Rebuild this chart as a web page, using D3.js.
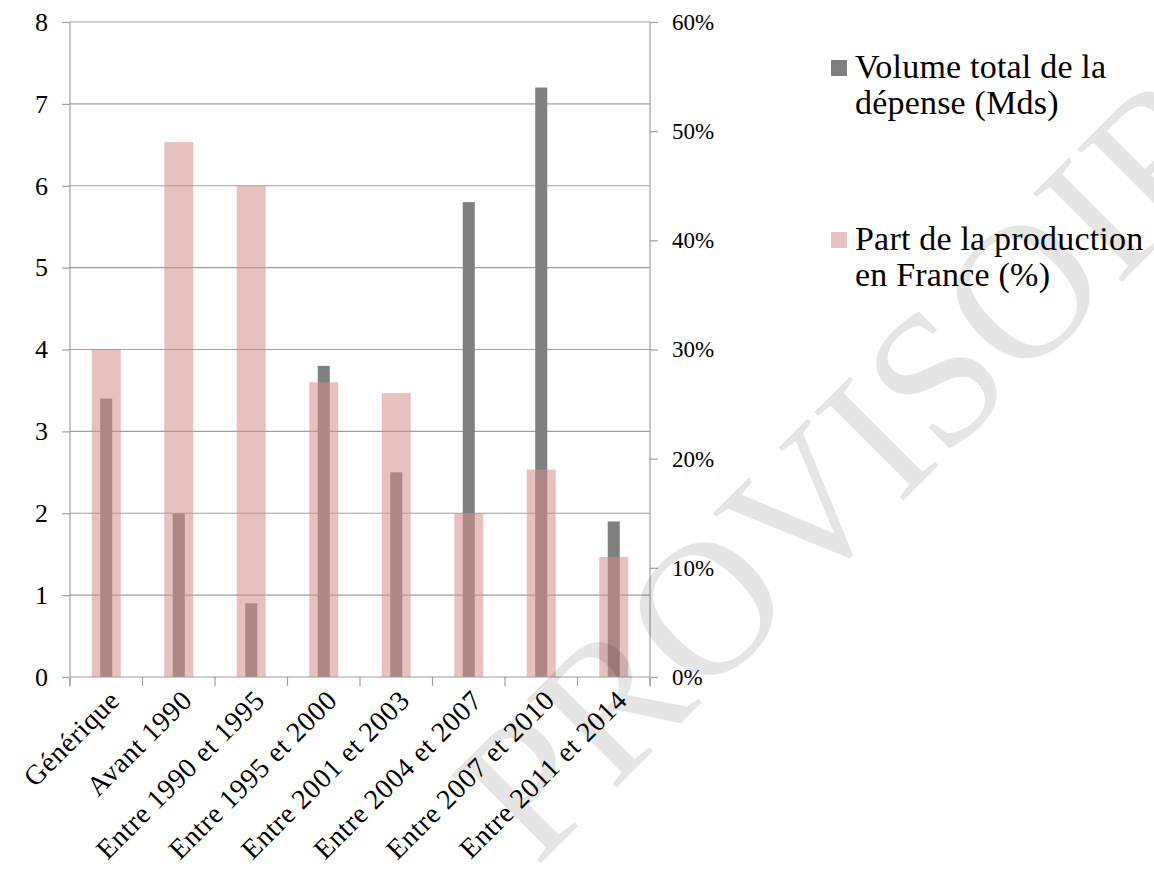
<!DOCTYPE html>
<html>
<head>
<meta charset="utf-8">
<script src="https://cdn.jsdelivr.net/npm/d3@7"></script>
<style>
  body { margin: 0; background: #fff; }
  text { font-family: "Liberation Serif", "Times New Roman", serif; fill: #000; }
</style>
</head>
<body>
<svg id="vis"></svg>
<script>
// Données du graphique
const categories = ["Générique", "Avant 1990", "Entre 1990 et 1995", "Entre 1995 et 2000",
    "Entre 2001 et 2003", "Entre 2004 et 2007", "Entre 2007 et 2010", "Entre 2011 et 2014"];
const volume = [3.4, 2.0, 0.9, 3.8, 2.5, 5.8, 7.2, 1.9];          // Mds
const partFrance = [0.30, 0.49, 0.45, 0.27, 0.26, 0.15, 0.19, 0.11]; // %
const ticksGauche = [0, 1, 2, 3, 4, 5, 6, 7, 8];
const ticksDroite = [0, 0.1, 0.2, 0.3, 0.4, 0.5, 0.6];
const legende = [
    { lignes: ["Volume total de la", "dépense (Mds)"], type: "volume" },
    { lignes: ["Part de la production", "en France (%)"], type: "part" },
];

const WIDTH = 1154;
const HEIGHT = 877;
const MARGIN = { top: 22, bottom: 200, left: 70, right: 504 };

const GRIS = "#808080";
const ROSE = "rgb(212,140,140)";
const ROSE_OPACITE = 0.55;
const AXE = "#a0a0a0";

const svg = d3.select("#vis")
    .attr("width", WIDTH)
    .attr("height", HEIGHT);

const escalaX = d3.scaleBand()
    .domain(categories)
    .range([MARGIN.left, WIDTH - MARGIN.right]);

const escalaY = d3.scaleLinear()
    .domain([0, 8])
    .range([HEIGHT - MARGIN.bottom, MARGIN.top]);

const escalaY2 = d3.scaleLinear()
    .domain([0, 0.6])
    .range([HEIGHT - MARGIN.bottom, MARGIN.top]);

const x0 = MARGIN.left;
const x1 = WIDTH - MARGIN.right;
const yBas = HEIGHT - MARGIN.bottom;

// Grille horizontale
svg.append("g")
    .selectAll("line")
    .data(ticksGauche.slice(1))
    .join("line")
    .attr("x1", x0).attr("x2", x1)
    .attr("y1", d => escalaY(d)).attr("y2", d => escalaY(d))
    .attr("stroke", AXE).attr("stroke-width", 1.2);

// Barres grises (volume)
svg.append("g")
    .selectAll("rect")
    .data(categories)
    .join("rect")
    .attr("x", (d) => escalaX(d) + escalaX.bandwidth() * 0.417)
    .attr("width", escalaX.bandwidth() * 0.166)
    .attr("y", (d, i) => escalaY(volume[i]))
    .attr("height", (d, i) => yBas - escalaY(volume[i]))
    .attr("fill", GRIS);

// Barres roses (part), semi-transparentes par-dessus
svg.append("g")
    .selectAll("rect")
    .data(categories)
    .join("rect")
    .attr("x", (d) => escalaX(d) + escalaX.bandwidth() * 0.3)
    .attr("width", escalaX.bandwidth() * 0.4)
    .attr("y", (d, i) => escalaY2(partFrance[i]))
    .attr("height", (d, i) => yBas - escalaY2(partFrance[i]))
    .attr("fill", ROSE)
    .attr("fill-opacity", ROSE_OPACITE);

// Axe gauche
const ejeY = svg.append("g")
    .attr("transform", `translate(${x0}, 0)`)
    .call(d3.axisLeft(escalaY).tickValues(ticksGauche).tickSize(8).tickSizeOuter(0).tickPadding(14));

// Axe droit
const ejeY2 = svg.append("g")
    .attr("transform", `translate(${x1}, 0)`)
    .call(d3.axisRight(escalaY2).tickValues(ticksDroite).tickSize(8).tickSizeOuter(0).tickPadding(14)
        .tickFormat(d3.format(".0%")));

// Axe X (ticks aux limites des catégories)
const ejeX = svg.append("g")
    .attr("transform", `translate(0, ${yBas})`);
ejeX.append("line")
    .attr("x1", x0).attr("x2", x1)
    .attr("stroke", AXE).attr("stroke-width", 1.2);
ejeX.selectAll("line.tick")
    .data(categories.map(c => escalaX(c)).concat([x1]))
    .join("line")
    .attr("class", "tick")
    .attr("x1", d => d).attr("x2", d => d)
    .attr("y1", 0).attr("y2", 9)
    .attr("stroke", AXE).attr("stroke-width", 1.2);
ejeX.selectAll("text")
    .data(categories)
    .join("text")
    .attr("transform", d => `translate(${escalaX(d) + escalaX.bandwidth() / 2 + 15}, 25) rotate(-45)`)
    .attr("text-anchor", "end")
    .attr("font-size", 28)
    .attr("letter-spacing", 0.6)
    .text(d => d);

[ejeY, ejeY2].forEach(g => {
    g.selectAll(".domain").attr("stroke", AXE).attr("stroke-width", 1.2)
        .attr("d", `M0,${MARGIN.top}V${yBas + 9}`);
    g.selectAll(".tick line").attr("stroke", AXE).attr("stroke-width", 1.2);
    g.selectAll(".tick text").attr("font-family", "Liberation Serif").attr("fill", "#000");
});
ejeY.selectAll(".tick text").attr("font-size", 26);
ejeY2.selectAll(".tick text").attr("font-size", 23);

// Légende
const leg = svg.append("g");
legende.forEach((item, i) => {
    const y0 = 78 + i * 172;
    leg.append("rect")
        .attr("x", 831).attr("y", y0 - 18)
        .attr("width", 16).attr("height", 16)
        .attr("fill", item.type === "volume" ? GRIS : ROSE)
        .attr("fill-opacity", item.type === "volume" ? 1 : ROSE_OPACITE);
    item.lignes.forEach((l, j) => {
        leg.append("text")
            .attr("x", 855)
            .attr("y", y0 + j * 36)
            .attr("font-size", 34)
            .attr("letter-spacing", 0.2)
            .text(l);
    });
});

// Filigrane
svg.append("text")
    .attr("transform", "translate(536, 868) rotate(-45)")
    .attr("font-size", 192)
    .style("fill", "#000")
    .attr("fill-opacity", 0.1)
    .text("PROVISOIRE");
</script>
</body>
</html>
